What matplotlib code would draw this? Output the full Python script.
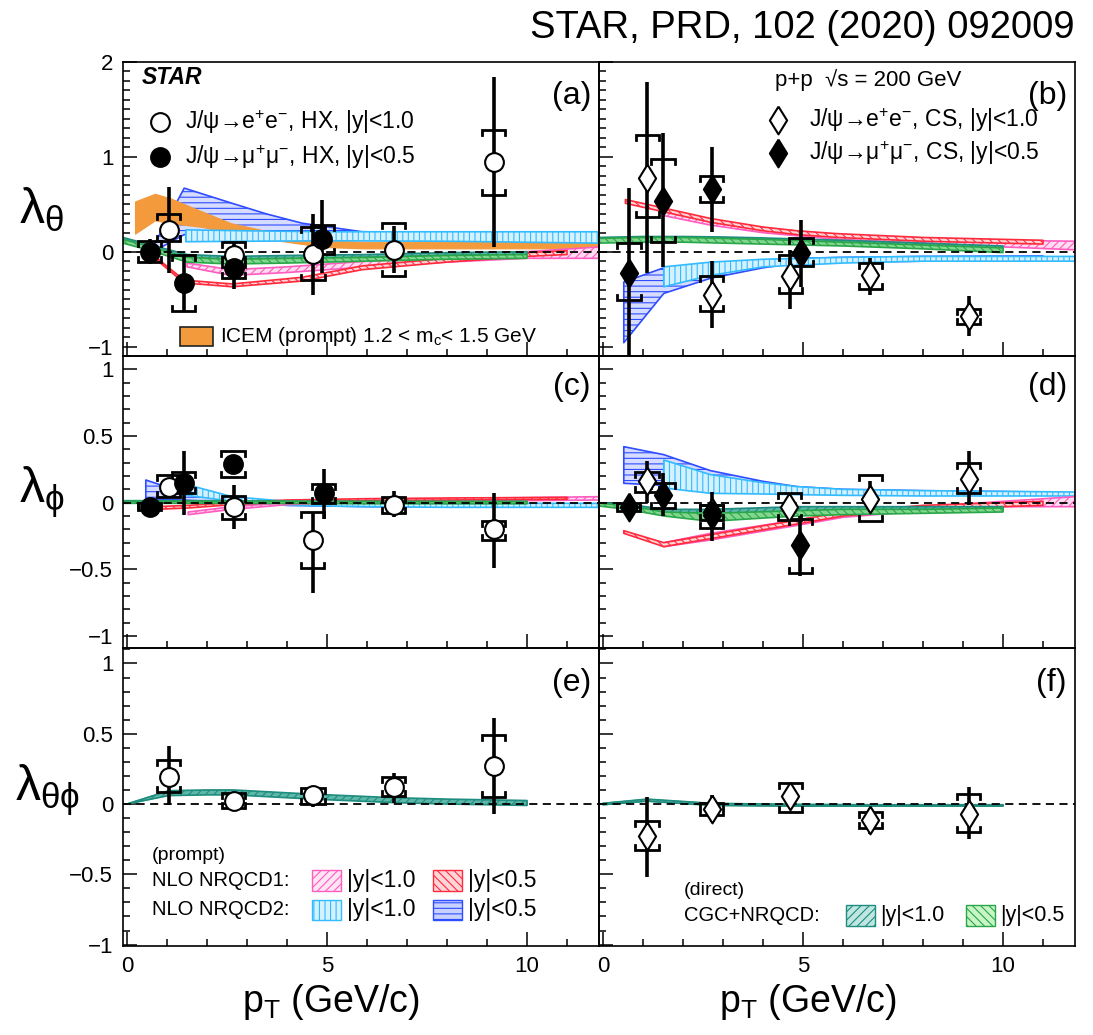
import matplotlib
matplotlib.use('Agg')
import matplotlib.pyplot as plt
from matplotlib.patches import Rectangle
import numpy as np

plt.rcParams['font.family'] = ['Liberation Sans', 'DejaVu Sans']
plt.rcParams['mathtext.fontset'] = 'custom'
plt.rcParams['mathtext.rm'] = 'Liberation Sans'
plt.rcParams['mathtext.it'] = 'Liberation Sans:italic'
plt.rcParams['mathtext.bf'] = 'Liberation Sans:bold'
plt.rcParams['hatch.linewidth'] = 0.8

# ---------------- data: measurements ----------------
# lambda_theta, HX (a)
a_ee_x = [1.04, 2.67, 4.65, 6.67, 9.17]
a_ee_y = [0.23, -0.03, -0.02, 0.02, 0.95]
a_ee_stat_lo = [0.45, 0.12, 0.44, 0.25, 0.90]
a_ee_stat_hi = [0.45, 0.12, 0.42, 0.25, 0.89]
a_ee_sys_lo = [0.12, 0.13, 0.28, 0.28, 0.35]
a_ee_sys_hi = [0.17, 0.13, 0.28, 0.28, 0.33]
a_mm_x = [0.57, 1.42, 2.67, 4.88]
a_mm_y = [0.0, -0.33, -0.17, 0.13]
a_mm_stat_lo = [0.13, 0.30, 0.22, 0.35]
a_mm_stat_hi = [0.13, 0.30, 0.22, 0.41]
a_mm_sys_lo = [0.11, 0.30, 0.11, 0.15]
a_mm_sys_hi = [0.11, 0.30, 0.11, 0.15]
# lambda_theta, CS (b)
b_ee_x = [1.11, 2.72, 4.68, 6.68, 9.14]
b_ee_y = [0.78, -0.46, -0.26, -0.25, -0.68]
b_ee_stat_lo = [1.00, 0.35, 0.34, 0.21, 0.21]
b_ee_stat_hi = [1.01, 0.36, 0.28, 0.18, 0.21]
b_ee_sys_lo = [0.41, 0.17, 0.18, 0.14, 0.08]
b_ee_sys_hi = [0.45, 0.20, 0.22, 0.13, 0.08]
b_mm_x = [0.65, 1.50, 2.72, 4.95]
b_mm_y = [-0.23, 0.53, 0.66, -0.01]
b_mm_stat_lo = [0.90, 0.69, 0.45, 0.36]
b_mm_stat_hi = [0.90, 0.72, 0.44, 0.34]
b_mm_sys_lo = [0.28, 0.43, 0.14, 0.14]
b_mm_sys_hi = [0.32, 0.45, 0.14, 0.15]
# lambda_phi, HX (c)
c_ee_x = [1.04, 2.67, 4.64, 6.67, 9.17]
c_ee_y = [0.12, -0.03, -0.28, -0.02, -0.20]
c_ee_stat_lo = [0.05, 0.17, 0.40, 0.09, 0.29]
c_ee_stat_hi = [0.05, 0.16, 0.21, 0.11, 0.27]
c_ee_sys_lo = [0.08, 0.09, 0.21, 0.06, 0.08]
c_ee_sys_hi = [0.09, 0.08, 0.21, 0.06, 0.06]
c_mm_x = [0.57, 1.42, 2.65, 4.92]
c_mm_y = [-0.03, 0.15, 0.29, 0.07]
c_mm_stat_lo = [0.02, 0.24, 0.04, 0.19]
c_mm_stat_hi = [0.02, 0.24, 0.04, 0.18]
c_mm_sys_lo = [0.025, 0.08, 0.10, 0.07]
c_mm_sys_hi = [0.025, 0.08, 0.10, 0.07]
# lambda_phi, CS (d)
d_ee_x = [1.10, 2.72, 4.66, 6.68, 9.14]
d_ee_y = [0.165, -0.07, -0.03, 0.03, 0.18]
d_ee_stat_lo = [0.165, 0.07, 0.08, 0.10, 0.20]
d_ee_stat_hi = [0.15, 0.07, 0.08, 0.13, 0.21]
d_ee_sys_lo = [0.085, 0.06, 0.10, 0.17, 0.11]
d_ee_sys_hi = [0.065, 0.05, 0.10, 0.18, 0.12]
d_mm_x = [0.64, 1.50, 2.72, 4.93]
d_mm_y = [-0.03, 0.06, -0.09, -0.32]
d_mm_stat_lo = [0.02, 0.16, 0.20, 0.23]
d_mm_stat_hi = [0.02, 0.16, 0.17, 0.22]
d_mm_sys_lo = [0.03, 0.10, 0.10, 0.21]
d_mm_sys_hi = [0.03, 0.09, 0.07, 0.20]
# lambda_thetaphi, HX (e)
e_ee_x = [1.04, 2.67, 4.65, 6.67, 9.17]
e_ee_y = [0.195, 0.025, 0.067, 0.12, 0.27]
e_ee_stat_lo = [0.20, 0.05, 0.09, 0.11, 0.34]
e_ee_stat_hi = [0.22, 0.05, 0.06, 0.10, 0.34]
e_ee_sys_lo = [0.11, 0.05, 0.065, 0.06, 0.22]
e_ee_sys_hi = [0.12, 0.05, 0.05, 0.07, 0.22]
# lambda_thetaphi, CS (f)
f_ee_x = [1.10, 2.72, 4.68, 6.68, 9.14]
f_ee_y = [-0.23, -0.036, 0.055, -0.115, -0.07]
f_ee_stat_lo = [0.29, 0.09, 0.05, 0.10, 0.18]
f_ee_stat_hi = [0.28, 0.10, 0.05, 0.09, 0.19]
f_ee_sys_lo = [0.10, 0.04, 0.115, 0.055, 0.13]
f_ee_sys_hi = [0.11, 0.045, 0.095, 0.055, 0.14]

# ---------------- data: model bands (x, low, high) ----------------
a_icem = ([0.2, 0.7, 1.1, 1.9, 2.6, 3.9, 4.9, 5.9, 8.0, 11.8],
          [0.19, 0.33, 0.30, 0.26, 0.19, 0.11, 0.05, 0.035, 0.035, 0.035],
          [0.53, 0.61, 0.56, 0.42, 0.30, 0.18, 0.12, 0.105, 0.105, 0.105])
a_nrqcd2_05 = ([0.65, 1.43, 2.63, 3.47, 4.38, 5.88, 8.0, 11.0],
               [0.0, 0.18, 0.19, 0.19, 0.18, 0.17, 0.16, 0.15],
               [0.05, 0.67, 0.51, 0.40, 0.30, 0.21, 0.20, 0.19])
a_nrqcd2_10 = ([1.47, 3.0, 5.0, 8.0, 11.8],
               [0.105, 0.11, 0.115, 0.11, 0.09],
               [0.23, 0.22, 0.21, 0.21, 0.21])
a_nrqcd1_10 = ([1.5, 2.6, 4.0, 6.0, 8.0, 10.0, 11.8],
               [-0.16, -0.25, -0.22, -0.16, -0.11, -0.07, -0.07],
               [-0.12, -0.19, -0.16, -0.10, -0.05, 0.0, 0.05])
a_nrqcd1_05 = ([0.55, 1.43, 2.63, 4.38, 5.88, 8.0, 10.0, 11.0],
               [-0.02, -0.33, -0.37, -0.31, -0.19, -0.11, -0.05, -0.03],
               [0.0, -0.30, -0.34, -0.27, -0.15, -0.07, -0.01, 0.01])
a_cgc_10 = ([-0.1, 0.6, 1.5, 2.6, 4.0, 6.0, 8.0, 10.0],
            [0.12, 0.03, -0.07, -0.09, -0.08, -0.06, -0.04, -0.03],
            [0.15, 0.07, -0.03, -0.05, -0.04, -0.03, -0.01, 0.0])
a_cgc_05 = ([-0.1, 0.6, 1.5, 2.6, 4.0, 6.0, 8.0, 10.0],
            [0.09, 0.01, -0.11, -0.13, -0.12, -0.10, -0.08, -0.07],
            [0.13, 0.05, -0.06, -0.08, -0.07, -0.06, -0.04, -0.03])

b_nrqcd1_05 = ([0.56, 1.52, 2.69, 4.0, 4.86, 5.86, 8.0, 11.0],
               [0.51, 0.42, 0.31, 0.22, 0.18, 0.15, 0.11, 0.08],
               [0.55, 0.46, 0.35, 0.26, 0.22, 0.19, 0.15, 0.12])
b_nrqcd1_10 = ([1.52, 2.69, 4.0, 5.86, 8.0, 10.0, 11.8],
               [0.38, 0.28, 0.20, 0.13, 0.09, 0.05, 0.02],
               [0.43, 0.33, 0.25, 0.18, 0.14, 0.12, 0.11])
b_cgc_10 = ([-0.1, 1.0, 2.0, 3.0, 4.0, 6.0, 8.0, 10.0],
            [0.11, 0.12, 0.12, 0.115, 0.105, 0.08, 0.05, 0.02],
            [0.15, 0.16, 0.16, 0.155, 0.145, 0.12, 0.09, 0.06])
b_cgc_05 = ([-0.1, 1.0, 2.0, 3.0, 4.0, 6.0, 8.0, 10.0],
            [0.09, 0.10, 0.10, 0.09, 0.08, 0.06, 0.03, -0.01],
            [0.14, 0.15, 0.15, 0.14, 0.13, 0.10, 0.07, 0.04])
b_nrqcd2_05 = ([0.52, 1.52, 2.69, 4.0, 4.86, 6.0, 8.0, 11.0],
               [-0.96, -0.44, -0.28, -0.17, -0.12, -0.11, -0.10, -0.09],
               [-0.32, -0.17, -0.12, -0.09, -0.07, -0.06, -0.05, -0.045])
b_nrqcd2_10 = ([1.52, 2.69, 4.0, 6.0, 8.0, 10.0, 11.8],
               [-0.37, -0.25, -0.16, -0.12, -0.10, -0.10, -0.10],
               [-0.16, -0.11, -0.08, -0.06, -0.05, -0.05, -0.05])

c_nrqcd2_05 = ([0.47, 1.38, 2.63, 4.0, 6.0, 8.0, 11.0],
               [0.03, 0.02, 0.0, -0.02, -0.03, -0.03, -0.03],
               [0.17, 0.08, 0.03, 0.0, -0.01, -0.01, -0.01])
c_nrqcd2_10 = ([1.38, 2.63, 4.0, 6.0, 8.0, 11.8],
               [0.06, 0.01, -0.02, -0.03, -0.035, -0.035],
               [0.145, 0.045, 0.01, 0.0, -0.005, -0.005])
c_nrqcd1_10 = ([1.53, 2.63, 4.0, 6.0, 8.0, 11.8],
               [-0.09, -0.05, -0.015, 0.005, 0.01, 0.02],
               [-0.07, -0.03, 0.0, 0.02, 0.03, 0.045])
c_nrqcd1_05 = ([0.72, 1.53, 2.63, 4.0, 6.0, 8.0, 11.0],
               [-0.05, -0.04, -0.015, 0.005, 0.015, 0.02, 0.025],
               [-0.03, -0.02, 0.0, 0.02, 0.03, 0.035, 0.04])
c_cgc_10 = ([-0.1, 2.0, 4.0, 6.0, 8.0, 10.0],
            [0.0, 0.0, -0.003, -0.005, -0.005, -0.005],
            [0.015, 0.015, 0.012, 0.01, 0.01, 0.01])
c_cgc_05 = ([-0.1, 2.0, 4.0, 6.0, 8.0, 10.0],
            [-0.005, -0.005, -0.006, -0.008, -0.008, -0.008],
            [0.01, 0.01, 0.01, 0.008, 0.008, 0.008])

d_nrqcd2_05 = ([0.52, 1.52, 2.69, 4.0, 4.86, 6.0, 8.0, 11.0],
               [0.145, 0.13, 0.095, 0.075, 0.07, 0.065, 0.06, 0.06],
               [0.42, 0.36, 0.24, 0.16, 0.12, 0.10, 0.09, 0.08])
d_nrqcd2_10 = ([1.52, 2.69, 4.0, 4.86, 6.0, 8.0, 11.8],
               [0.11, 0.07, 0.065, 0.06, 0.055, 0.05, 0.05],
               [0.32, 0.21, 0.15, 0.12, 0.10, 0.09, 0.08])
d_nrqcd1_05 = ([0.52, 1.52, 2.69, 4.86, 6.0, 8.0, 11.0],
               [-0.23, -0.33, -0.27, -0.16, -0.10, -0.05, -0.02],
               [-0.21, -0.30, -0.24, -0.13, -0.07, -0.02, 0.01])
d_nrqcd1_10 = ([1.52, 2.69, 4.86, 6.0, 8.0, 10.0, 11.8],
               [-0.33, -0.28, -0.17, -0.11, -0.06, -0.03, -0.03],
               [-0.30, -0.23, -0.13, -0.08, -0.03, 0.01, 0.045])
d_cgc_10 = ([-0.1, 0.6, 1.52, 2.69, 4.86, 6.0, 8.0, 10.0],
            [-0.02, -0.04, -0.08, -0.09, -0.07, -0.07, -0.06, -0.06],
            [0.0, -0.01, -0.05, -0.05, -0.03, -0.03, -0.03, -0.03])
d_cgc_05 = ([-0.1, 0.6, 1.52, 2.69, 4.86, 6.0, 8.0, 10.0],
            [-0.025, -0.05, -0.10, -0.14, -0.10, -0.09, -0.08, -0.07],
            [-0.005, -0.02, -0.07, -0.08, -0.06, -0.05, -0.05, -0.04])

e_cgc_10 = ([0.0, 1.04, 2.0, 2.67, 4.65, 6.67, 8.0, 10.0],
            [0.0, 0.06, 0.065, 0.065, 0.035, 0.01, 0.0, -0.01],
            [0.0, 0.095, 0.10, 0.10, 0.07, 0.045, 0.035, 0.025])
e_cgc_05 = ([0.0, 1.04, 2.0, 2.67, 4.65, 6.67, 8.0, 10.0],
            [0.0, 0.065, 0.07, 0.07, 0.04, 0.015, 0.005, -0.005],
            [0.0, 0.09, 0.095, 0.095, 0.065, 0.04, 0.03, 0.02])
f_cgc_10 = ([0.0, 1.1, 2.72, 4.68, 6.68, 8.0, 10.0],
            [-0.005, 0.02, -0.01, -0.015, -0.015, -0.015, -0.015],
            [0.005, 0.035, 0.005, -0.002, -0.005, -0.005, -0.005])
f_cgc_05 = ([0.0, 1.1, 2.72, 4.68, 6.68, 8.0, 10.0],
            [-0.004, 0.022, -0.008, -0.013, -0.013, -0.013, -0.013],
            [0.004, 0.032, 0.003, -0.004, -0.007, -0.007, -0.007])

# ---------------- styles ----------------
STY = {
    'icem':      dict(face='#f39a3c', edge='#f39a3c', hatch=None, legface='#f39a3c'),
    'nrqcd2_05': dict(face='#d5dcff', edge='#2f4dff', hatch='---', legface='#c9d2ff'),
    'nrqcd2_10': dict(face='#d3f1ff', edge='#33bbff', hatch='|||', legface='#d3f1ff'),
    'nrqcd1_10': dict(face='#ffdcef', edge='#ff5cc0', hatch='////', legface='#ffe4f3'),
    'nrqcd1_05': dict(face='#ffd4d8', edge='#ff2a3c', hatch='\\\\\\\\', legface='#ffd4d8'),
    'cgc_10':    dict(face='#5db8aa', edge='#1e8c7e', hatch='////', legface='#bfe6e1'),
    'cgc_05':    dict(face='#82d68e', edge='#2aa64a', hatch='\\\\\\\\', legface='#c8f5c4'),
}

W, H = 1093, 1035
fig = plt.figure(figsize=(W / 100, H / 100), dpi=100)

cols = [(123, 599), (599, 1075)]
rows = [(62, 356), (356, 648), (648, 946)]
ylims = [(-1.1, 2.0), (-1.09, 1.10), (-1.01, 1.11)]
XLIM = (-0.1, 11.8)

DIAMOND = [(0, 1), (0.62, 0), (0, -1), (-0.62, 0), (0, 1)]


def rect(x0, x1, y0, y1):
    return [x0 / W, 1 - y1 / H, (x1 - x0) / W, (y1 - y0) / H]


axes = {}
names = [['a', 'b'], ['c', 'd'], ['e', 'f']]
for r, (y0, y1) in enumerate(rows):
    for c, (x0, x1) in enumerate(cols):
        ax = fig.add_axes(rect(x0, x1, y0, y1))
        ax.set_xlim(*XLIM)
        ax.set_ylim(*ylims[r])
        ax.set_facecolor('none')
        for s in ax.spines.values():
            s.set_linewidth(1.2)
        ax.tick_params(which='both', direction='in', top=False, right=False,
                       labelsize=16, width=1.1, pad=7)
        ax.tick_params(which='major', length=10)
        ax.tick_params(which='minor', length=5)
        ax.set_xticks([0, 5, 10])
        ax.set_xticks(np.arange(0, 12, 1), minor=True)
        if r == 0:
            ax.set_yticks([-1, 0, 1, 2])
            ax.set_yticklabels(['\u22121', '0', '1', '2'])
        else:
            ax.set_yticks([-1, -0.5, 0, 0.5, 1])
            ax.set_yticklabels(['\u22121', '\u22120.5', '0', '0.5', '1'])
        lo, hi = ylims[r]
        ax.set_yticks(np.round(np.arange(np.ceil(lo * 10) / 10, hi + 1e-9, 0.1), 2), minor=True)
        if c == 1:
            ax.tick_params(labelleft=False)
        if r < 2:
            ax.tick_params(labelbottom=False)
        ax.axhline(0, color='k', lw=1.3, ls=(0, (4.5, 3)), zorder=3)
        axes[names[r][c]] = (ax, (y1 - y0), (hi - lo))


def band(ax, data, key):
    x, lo, hi = data
    st = STY[key]
    if st['hatch'] is None:
        ax.fill_between(x, lo, hi, facecolor=st['face'], edgecolor=st['edge'],
                        lw=0.8, zorder=2)
    else:
        ax.fill_between(x, lo, hi, facecolor=st['face'], edgecolor=st['edge'],
                        hatch=st['hatch'], lw=1.2, zorder=2)


def points(name, x, y, slo, shi, ylo, yhi, marker, filled, ms):
    ax, hpx, yr = axes[name]
    x = np.asarray(x, float)
    y = np.asarray(y, float)
    dy = 5.0 * yr / hpx
    w = 0.29
    ax.vlines(x, y - np.asarray(slo), y + np.asarray(shi), colors='k', lw=2.6, zorder=4)
    for xi, yt, yb in zip(x, y + np.asarray(yhi), y - np.asarray(ylo)):
        ax.plot([xi - w, xi - w, xi + w, xi + w], [yt - dy, yt, yt, yt - dy],
                color='k', lw=2.0, zorder=4, solid_joinstyle='miter')
        ax.plot([xi - w, xi - w, xi + w, xi + w], [yb + dy, yb, yb, yb + dy],
                color='k', lw=2.0, zorder=4, solid_joinstyle='miter')
    ax.plot(x, y, ls='none', marker=marker, ms=ms, mfc='k' if filled else 'white',
            mec='k', mew=1.5, zorder=5)


# ---- bands
band(axes['a'][0], a_nrqcd2_05, 'nrqcd2_05')
band(axes['a'][0], a_icem, 'icem')
band(axes['a'][0], a_nrqcd2_10, 'nrqcd2_10')
band(axes['a'][0], a_nrqcd1_10, 'nrqcd1_10')
band(axes['a'][0], a_nrqcd1_05, 'nrqcd1_05')
band(axes['a'][0], a_cgc_10, 'cgc_10')
band(axes['a'][0], a_cgc_05, 'cgc_05')

band(axes['b'][0], b_nrqcd2_05, 'nrqcd2_05')
band(axes['b'][0], b_nrqcd2_10, 'nrqcd2_10')
band(axes['b'][0], b_nrqcd1_10, 'nrqcd1_10')
band(axes['b'][0], b_nrqcd1_05, 'nrqcd1_05')
band(axes['b'][0], b_cgc_10, 'cgc_10')
band(axes['b'][0], b_cgc_05, 'cgc_05')

band(axes['c'][0], c_nrqcd2_05, 'nrqcd2_05')
band(axes['c'][0], c_nrqcd2_10, 'nrqcd2_10')
band(axes['c'][0], c_nrqcd1_10, 'nrqcd1_10')
band(axes['c'][0], c_nrqcd1_05, 'nrqcd1_05')
band(axes['c'][0], c_cgc_10, 'cgc_10')
band(axes['c'][0], c_cgc_05, 'cgc_05')

band(axes['d'][0], d_nrqcd2_05, 'nrqcd2_05')
band(axes['d'][0], d_nrqcd2_10, 'nrqcd2_10')
band(axes['d'][0], d_nrqcd1_10, 'nrqcd1_10')
band(axes['d'][0], d_nrqcd1_05, 'nrqcd1_05')
band(axes['d'][0], d_cgc_10, 'cgc_10')
band(axes['d'][0], d_cgc_05, 'cgc_05')

band(axes['e'][0], e_cgc_05, 'cgc_05')
band(axes['e'][0], e_cgc_10, 'cgc_10')
band(axes['f'][0], f_cgc_05, 'cgc_05')
band(axes['f'][0], f_cgc_10, 'cgc_10')

# ---- data points
CMS = 13.5
DMS = 20
points('a', a_ee_x, a_ee_y, a_ee_stat_lo, a_ee_stat_hi, a_ee_sys_lo, a_ee_sys_hi, 'o', False, CMS)
points('a', a_mm_x, a_mm_y, a_mm_stat_lo, a_mm_stat_hi, a_mm_sys_lo, a_mm_sys_hi, 'o', True, CMS)
points('b', b_ee_x, b_ee_y, b_ee_stat_lo, b_ee_stat_hi, b_ee_sys_lo, b_ee_sys_hi, DIAMOND, False, DMS)
points('b', b_mm_x, b_mm_y, b_mm_stat_lo, b_mm_stat_hi, b_mm_sys_lo, b_mm_sys_hi, DIAMOND, True, DMS)
points('c', c_ee_x, c_ee_y, c_ee_stat_lo, c_ee_stat_hi, c_ee_sys_lo, c_ee_sys_hi, 'o', False, CMS)
points('c', c_mm_x, c_mm_y, c_mm_stat_lo, c_mm_stat_hi, c_mm_sys_lo, c_mm_sys_hi, 'o', True, CMS)
points('d', d_ee_x, d_ee_y, d_ee_stat_lo, d_ee_stat_hi, d_ee_sys_lo, d_ee_sys_hi, DIAMOND, False, DMS)
points('d', d_mm_x, d_mm_y, d_mm_stat_lo, d_mm_stat_hi, d_mm_sys_lo, d_mm_sys_hi, DIAMOND, True, DMS)
points('e', e_ee_x, e_ee_y, e_ee_stat_lo, e_ee_stat_hi, e_ee_sys_lo, e_ee_sys_hi, 'o', False, CMS)
points('f', f_ee_x, f_ee_y, f_ee_stat_lo, f_ee_stat_hi, f_ee_sys_lo, f_ee_sys_hi, DIAMOND, False, DMS)

# ---- panel labels
for n, y in zip(['a', 'b', 'c', 'd', 'e', 'f'], [0.884, 0.884, 0.894, 0.894, 0.883, 0.883]):
    ax = axes[n][0]
    ax.text(0.983, y, '(%s)' % n, transform=ax.transAxes, ha='right', va='center', fontsize=23)

# ---- legend (a)
axa = axes['a'][0]
axa.text(0.040, 0.946, 'STAR', transform=axa.transAxes, fontsize=16.5, fontweight='bold',
         fontstyle='italic', va='center', ha='left')
axa.plot([0.078], [0.796], transform=axa.transAxes, marker='o', ms=CMS, mfc='white', mec='k',
         mew=1.5, ls='none', clip_on=False)
axa.plot([0.078], [0.677], transform=axa.transAxes, marker='o', ms=CMS, mfc='k', mec='k',
         mew=1.5, ls='none', clip_on=False)
axa.text(0.130, 0.796, r'J/ψ→e$^{+}$e$^{-}$, HX, |y|<1.0', transform=axa.transAxes,
         fontsize=16.5, va='center')
axa.text(0.130, 0.677, r'J/ψ→μ$^{+}$μ$^{-}$, HX, |y|<0.5', transform=axa.transAxes,
         fontsize=16.5, va='center')
axa.add_patch(Rectangle((0.120, 0.034), 0.069, 0.065, transform=axa.transAxes,
                        facecolor=STY['icem']['legface'], edgecolor='#222222', lw=1.2, zorder=6))
axa.text(0.204, 0.066, r'ICEM (prompt) 1.2 < m$_{\rm c}$< 1.5 GeV', transform=axa.transAxes,
         fontsize=15, va='center')

# ---- legend (b)
axb = axes['b'][0]
axb.text(0.37, 0.939, 'p+p  √s = 200 GeV', transform=axb.transAxes, fontsize=16, va='center')
axb.plot([0.376], [0.803], transform=axb.transAxes, marker=DIAMOND, ms=DMS, mfc='white', mec='k',
         mew=1.5, ls='none', clip_on=False)
axb.plot([0.376], [0.690], transform=axb.transAxes, marker=DIAMOND, ms=DMS, mfc='k', mec='k',
         mew=1.5, ls='none', clip_on=False)
axb.text(0.441, 0.803, r'J/ψ→e$^{+}$e$^{-}$, CS, |y|<1.0', transform=axb.transAxes,
         fontsize=16.5, va='center')
axb.text(0.441, 0.690, r'J/ψ→μ$^{+}$μ$^{-}$, CS, |y|<0.5', transform=axb.transAxes,
         fontsize=16.5, va='center')


def legbox(ax, x, y, w, h, key):
    st = STY[key]
    ax.add_patch(Rectangle((x, y), w, h, transform=ax.transAxes, facecolor=st['legface'],
                           edgecolor=st['edge'], hatch=st['hatch'], lw=1.0, zorder=6))


# ---- legend (e)
axe = axes['e'][0]
axe.text(0.061, 0.305, '(prompt)', transform=axe.transAxes, fontsize=14, va='center')
axe.text(0.061, 0.221, 'NLO NRQCD1:', transform=axe.transAxes, fontsize=14.5, va='center')
axe.text(0.061, 0.121, 'NLO NRQCD2:', transform=axe.transAxes, fontsize=14.5, va='center')
legbox(axe, 0.397, 0.185, 0.061, 0.070, 'nrqcd1_10')
legbox(axe, 0.651, 0.185, 0.061, 0.070, 'nrqcd1_05')
legbox(axe, 0.397, 0.086, 0.061, 0.070, 'nrqcd2_10')
legbox(axe, 0.651, 0.086, 0.061, 0.070, 'nrqcd2_05')
for xx, yy, t in [(0.471, 0.221, '|y|<1.0'), (0.725, 0.221, '|y|<0.5'),
                  (0.471, 0.121, '|y|<1.0'), (0.725, 0.121, '|y|<0.5')]:
    axe.text(xx, yy, t, transform=axe.transAxes, fontsize=16.5, va='center')

# ---- legend (f)
axf = axes['f'][0]
axf.text(0.179, 0.185, '(direct)', transform=axf.transAxes, fontsize=14, va='center')
axf.text(0.179, 0.104, 'CGC+NRQCD:', transform=axf.transAxes, fontsize=14.5, va='center')
legbox(axf, 0.519, 0.066, 0.061, 0.072, 'cgc_10')
legbox(axf, 0.771, 0.066, 0.061, 0.072, 'cgc_05')
axf.text(0.590, 0.104, '|y|<1.0', transform=axf.transAxes, fontsize=15.5, va='center')
axf.text(0.842, 0.104, '|y|<0.5', transform=axf.transAxes, fontsize=15.5, va='center')

# ---- axis titles
fig.text(42 / W, 1 - 210 / H, r'$\mathrm{\lambda_{\theta}}$', fontsize=36, ha='center', va='center')
fig.text(42 / W, 1 - 492 / H, r'$\mathrm{\lambda_{\phi}}$', fontsize=36, ha='center', va='center')
fig.text(48 / W, 1 - 790 / H, r'$\mathrm{\lambda_{\theta\phi}}$', fontsize=36, ha='center', va='center')
fig.text(331 / W, 1 - 1002 / H, r'p$_{\rm T}$ (GeV/c)', fontsize=27, ha='center', va='center')
fig.text(808 / W, 1 - 1002 / H, r'p$_{\rm T}$ (GeV/c)', fontsize=27, ha='center', va='center')
fig.text(1075 / W, 1 - 28 / H, 'STAR, PRD, 102 (2020) 092009', fontsize=27.5, ha='right', va='center')

fig.savefig('out.png', dpi=100)
